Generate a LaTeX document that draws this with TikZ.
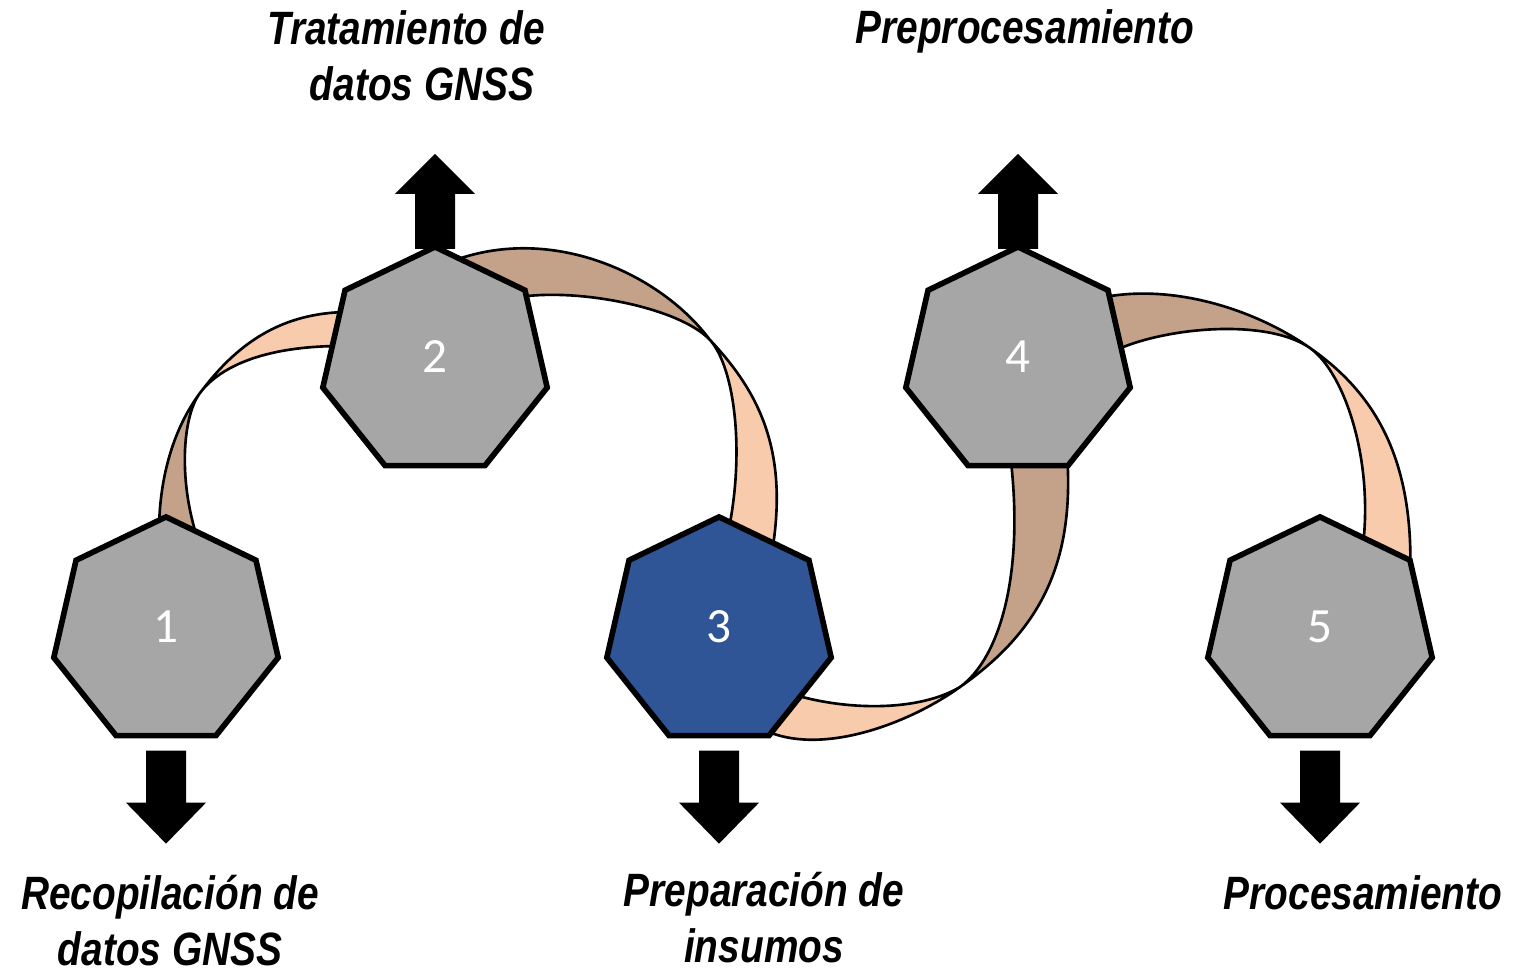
\documentclass[tikz,border=0pt]{standalone}
\usepackage{fontspec}
\setmainfont{Carlito}
\newfontfamily\stagefont{Liberation Sans}[FakeStretch=0.83]
\usetikzlibrary{shapes.geometric}

\definecolor{hepgray}{RGB}{166,166,166}
\definecolor{hepblue}{RGB}{47,85,151}
\definecolor{ribpeach}{RGB}{248,203,173}
\definecolor{ribtan}{RGB}{196,162,138}

\begin{document}
\begin{tikzpicture}[x=0.01cm, y=0.01cm,
  hep/.style={regular polygon, regular polygon sides=7, minimum size=2.30cm, inner sep=0pt, outer sep=0pt,
    draw=black, line width=1.6pt, fill=hepgray, text=white, text depth=0.1cm, font=\fontsize{14pt}{16pt}\selectfont},
  ribdark/.style={fill=ribtan, draw=black, line width=0.75pt, line join=round},
  riblight/.style={fill=ribpeach, draw=black, line width=0.75pt, line join=round},
  stage/.style={inner sep=0pt, align=center, font=\stagefont\bfseries\itshape\fontsize{13.3pt}{15.9pt}\selectfont}]
\useasboundingbox (0,0) rectangle (1534,973);

% twist points
\coordinate (x12) at (200,580);
\coordinate (x23) at (710,633);
\coordinate (x34) at (960,286);
\coordinate (x45) at (1310,625);

% ribbon 1-2
\filldraw[ribdark] (159,440) .. controls (159,500) and (176,548) .. (x12)
  .. controls (182,556) and (178,490) .. (199,430) -- cycle;
\filldraw[riblight] (x12) .. controls (236,628) and (280,661) .. (350,661)
  -- (342,627) .. controls (260,627) and (218,604) .. (x12) -- cycle;

% ribbon 2-3
\filldraw[ribdark] (450,711) .. controls (550,750) and (660,700) .. (x23)
  .. controls (680,665) and (580,685) .. (520,676) -- cycle;
\filldraw[riblight] (x23) .. controls (760,580) and (790,520) .. (771,415)
  -- (728,440) .. controls (745,520) and (735,605) .. (x23) -- cycle;

% ribbon 3-4
\filldraw[riblight] (795,278) .. controls (850,262) and (920,262) .. (x34)
  .. controls (910,250) and (820,215) .. (762,244) -- cycle;
\filldraw[ribdark] (x34) .. controls (1000,315) and (1025,400) .. (1010,520)
  -- (1067,520) .. controls (1075,410) and (1040,342) .. (x34) -- cycle;

% ribbon 4-5
\filldraw[ribdark] (1100,675) .. controls (1170,690) and (1253,665) .. (x45)
  .. controls (1265,656) and (1160,645) .. (1112,621) -- cycle;
\filldraw[riblight] (x45) .. controls (1370,583) and (1415,520) .. (1410,395)
  -- (1362,420) .. controls (1375,510) and (1345,600) .. (x45) -- cycle;

% stages
\node[hep] (h1) at (166,341) {1};
\node[hep] (h2) at (435,611) {2};
\node[hep, fill=hepblue] (h3) at (719,341) {3};
\node[hep] (h4) at (1018,611) {4};
\node[hep] (h5) at (1320,341) {5};

% block arrows
\foreach \n in {2,4}
  \fill (h\n.north) ++(-20,-2) -- ++(0,55) -- ++(-20,0) -- ++(40,40) -- ++(40,-40) -- ++(-20,0) -- ++(0,-55) -- cycle;
\foreach \n in {1,3,5}
  \fill (h\n.south) ++(-20,-15) -- ++(0,-52) -- ++(-20,0) -- ++(40,-41) -- ++(40,41) -- ++(-20,0) -- ++(0,52) -- cycle;

% labels
\node[stage, anchor=south] (t1) at (170,6) {Recopilación de\\datos GNSS};
\node[stage, anchor=south] (t2) at (406,871) {Tratamiento de\\\hspace*{0.32cm}datos GNSS};
\node[stage, anchor=south] (t3) at (764,9) {Preparación de\\insumos};
\node[stage, anchor=base] (t4) at (1025,929) {Preprocesamiento};
\node[stage, anchor=base] (t5) at (1363,64) {Procesamiento};
\end{tikzpicture}
\end{document}
